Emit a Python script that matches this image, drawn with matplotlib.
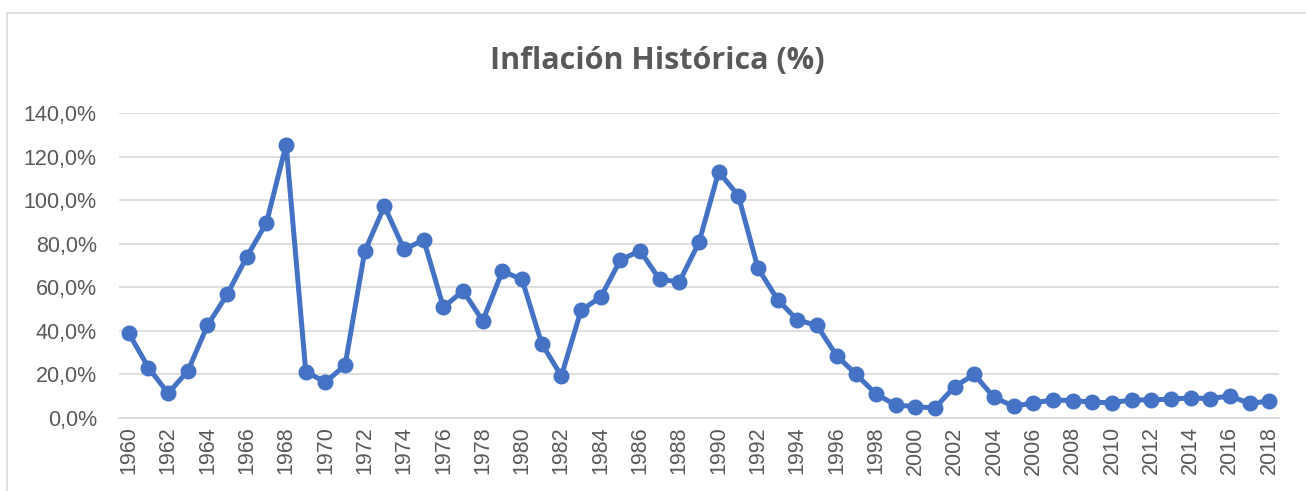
import matplotlib.pyplot as plt
from matplotlib.patches import Rectangle
from matplotlib.ticker import FuncFormatter

# Data (%)
years = list(range(1960, 2019))
inflation = [38.9, 23.1, 11.3, 21.6, 42.5, 56.7, 74.0, 89.6, 125.5, 21.2,
             16.5, 24.2, 76.6, 97.2, 77.4, 81.7, 50.8, 58.4, 44.6, 67.4,
             63.6, 34.1, 19.3, 49.4, 55.5, 72.5, 76.8, 63.6, 62.5, 80.6,
             113.0, 102.1, 68.7, 54.3, 45.0, 42.5, 28.6, 20.0, 11.0, 6.0,
             5.2, 4.6, 14.4, 20.0, 9.5, 5.4, 6.9, 8.3, 8.0, 7.3,
             7.0, 8.3, 8.3, 8.7, 9.2, 8.9, 10.1, 6.7, 7.8]
tick_years = years[::2]

W, H = 1306, 491
fig = plt.figure(figsize=(W / 100, H / 100), dpi=100)
ax = fig.add_axes([119 / W, 1 - 418 / H, (1279 - 119) / W, (418 - 113) / H])

# outer chart frame
fig.patches.append(Rectangle((7 / W, -0.05), 1.1, 1 - 13 / H + 0.05,
                             transform=fig.transFigure, fill=False,
                             edgecolor='#D9D9D9', linewidth=1.2))

ax.plot(years, inflation, color='#4472C4', linewidth=3.6,
        marker='o', markersize=10.5, zorder=3)

ax.set_xlim(years[0] - 0.5, years[-1] + 0.5)
ax.set_ylim(0, 140)
ax.set_yticks(range(0, 141, 20))
ax.yaxis.set_major_formatter(FuncFormatter(lambda v, p: f'{v:.1f}'.replace('.', ',') + '%'))
ax.set_xticks(tick_years)
ax.set_xticklabels([str(y) for y in tick_years], rotation=90)

ax.grid(axis='y', color='#D9D9D9', linewidth=1.2)
ax.set_axisbelow(True)
for s in ax.spines.values():
    s.set_visible(False)
ax.spines['bottom'].set_visible(True)
ax.spines['bottom'].set_color('#D9D9D9')
ax.spines['bottom'].set_linewidth(1.2)

ax.tick_params(axis='both', length=0, colors='#595959', labelsize=15.5)
ax.tick_params(axis='y', pad=16)
ax.tick_params(axis='x', pad=6)
for lbl in ax.get_xticklabels() + ax.get_yticklabels():
    lbl.set_family('Liberation Sans')

fig.text(657 / W, 1 - 61 / H, 'Inflación Histórica (%)', ha='center', va='center',
         fontsize=22, fontweight='bold', color='#595959', family='Open Sans')

fig.savefig('out.png', dpi=100)
